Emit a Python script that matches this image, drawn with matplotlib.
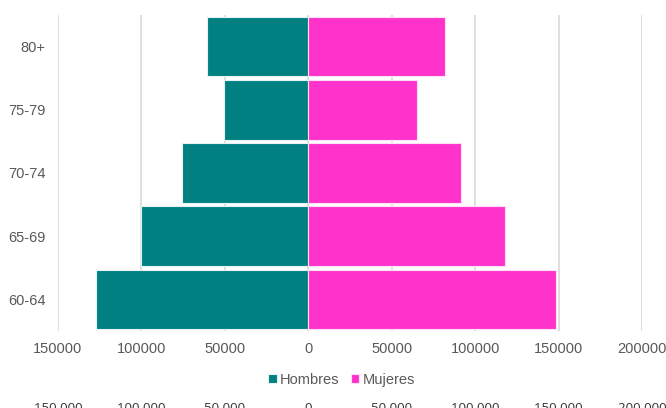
""" Piramide de poblacion 60+ (Hombres / Mujeres) """

import matplotlib
matplotlib.use("Agg")
import matplotlib.pyplot as plt
from matplotlib.ticker import FuncFormatter

# data
grupos = ["60-64", "65-69", "70-74", "75-79", "80+"]
hombres = [127000, 100000, 75500, 50800, 61000]
mujeres = [148200, 118000, 91800, 65000, 82000]
ticks = [-150000, -100000, -50000, 0, 50000, 100000, 150000, 200000]

teal = "#008080"
magenta = "#FF33CC"
gris = "#595959"

plt.rcParams['font.family'] = ['Liberation Sans', 'DejaVu Sans']

fig = plt.figure(figsize=(6.66, 4.08), dpi=100)
ax = fig.add_axes([58/666, 1-331/408, (642-58)/666, (331-15)/408])

pos = range(len(grupos))
ax.barh(pos, [-h for h in hombres], height=0.94, color=teal,
        edgecolor="#E6F2F2", linewidth=0.8, label="Hombres", zorder=3)
ax.barh(pos, mujeres, height=0.94, color=magenta,
        edgecolor="#FFE0F5", linewidth=0.8, label="Mujeres", zorder=3)

ax.set_xlim(-150000, 200000)
ax.set_ylim(-0.5, 4.5)
ax.set_xticks(ticks)
ax.xaxis.set_major_formatter(FuncFormatter(lambda v, p: "%d" % abs(v)))
ax.set_yticks(list(pos))
ax.set_yticklabels(grupos)
ax.tick_params(axis="both", length=0, labelsize=10.5, colors=gris)
ax.tick_params(axis="x", pad=8)
ax.tick_params(axis="y", pad=9)
ax.grid(axis="x", color="#D9D9D9", linewidth=1.2, zorder=0)
for s in ax.spines.values():
    s.set_visible(False)

ax.legend(loc="upper center", bbox_to_anchor=(0.485, -0.09), ncol=2,
          frameon=False, fontsize=10.5, labelcolor=gris,
          handlelength=0.6, handleheight=0.6, handletextpad=0.2,
          columnspacing=0.8)

# second row of labels at the very bottom (cut by the figure edge)
sec = ax.secondary_xaxis(-0.225)
sec.set_xticks(ticks)
sec.xaxis.set_major_formatter(
    FuncFormatter(lambda v, p: "{:,.0f}".format(abs(v)).replace(",", " ")))
sec.tick_params(length=0, pad=0, labelsize=9.5, colors="#333333")
for lab in sec.get_xticklabels():
    lab.set_fontfamily(['Open Sans', 'DejaVu Sans'])
sec.spines["bottom"].set_visible(False)

fig.savefig("out.png", dpi=100)
